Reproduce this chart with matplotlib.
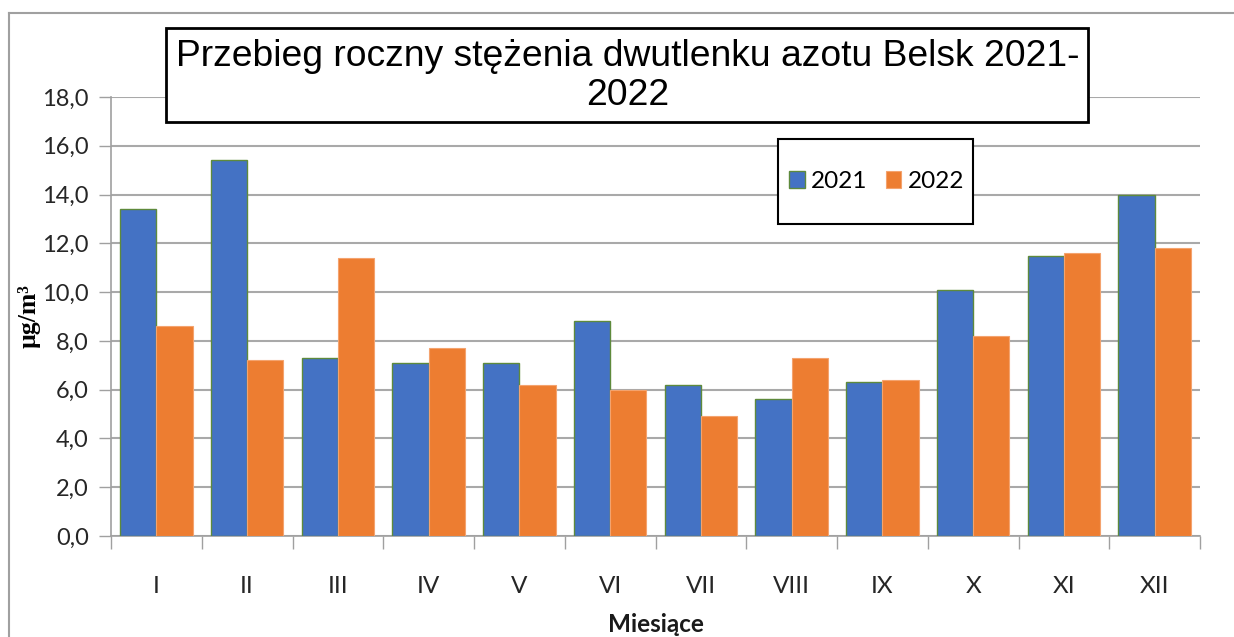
import matplotlib
matplotlib.use("Agg")
import matplotlib.pyplot as plt
from matplotlib.patches import Rectangle
from matplotlib.lines import Line2D
import numpy as np

months = ["I", "II", "III", "IV", "V", "VI", "VII", "VIII", "IX", "X", "XI", "XII"]
values_2021 = [13.4, 15.4, 7.3, 7.1, 7.1, 8.8, 6.2, 5.6, 6.3, 10.1, 11.5, 14.0]
values_2022 = [8.6, 7.2, 11.4, 7.7, 6.2, 6.0, 4.9, 7.3, 6.4, 8.2, 11.6, 11.8]
series_labels = ["2021", "2022"]
yticks = [0, 2, 4, 6, 8, 10, 12, 14, 16, 18]
ytick_labels = ["0,0", "2,0", "4,0", "6,0", "8,0", "10,0", "12,0", "14,0", "16,0", "18,0"]
title = "Przebieg roczny stężenia dwutlenku azotu Belsk 2021-\n2022"
xlabel = "Miesiące"
ylabel = "µg/m³"

W, H = 1234, 637
fig = plt.figure(figsize=(W / 100, H / 100), dpi=100)
fig.patch.set_facecolor("white")

# axes placement (pixels)
x0, x1 = 111, 1200
y0, y1 = 536, 97
ax = fig.add_axes([x0 / W, 1 - y0 / H, (x1 - x0) / W, (y0 - y1) / H])

BLUE = "#4472C4"
ORANGE = "#ED7D31"
GREEN_EDGE = "#5E8A3C"

n = len(months)
x = np.arange(n)
bw = 0.40
ax.bar(x - bw / 2, values_2021, width=bw, color=BLUE, edgecolor=GREEN_EDGE,
       linewidth=1.0, zorder=3, label=series_labels[0])
ax.bar(x + bw / 2, values_2022, width=bw, color=ORANGE, edgecolor="#F4A36E",
       linewidth=0.8, zorder=3, label=series_labels[1])

ax.set_xlim(-0.5, n - 0.5)
ax.set_ylim(0, 18)

ax.set_yticks(yticks)
ax.set_yticklabels(ytick_labels, fontfamily="Lato", fontsize=17, color="#262626")
ax.yaxis.grid(True, color="#A9A9A9", linewidth=1.5, zorder=0)
ax.tick_params(axis="y", length=9, width=1, color="#A0A0A0", pad=7)

ax.set_xticks(x)
ax.set_xticklabels(months, fontfamily="Lato", fontsize=17.5, color="#262626")
ax.tick_params(axis="x", which="major", length=0, pad=29)
ax.set_xticks(np.arange(-0.5, n, 1.0), minor=True)
ax.tick_params(axis="x", which="minor", length=9, width=1, color="#A0A0A0")

for s in ["top", "right"]:
    ax.spines[s].set_visible(False)
for s in ["left", "bottom"]:
    ax.spines[s].set_color("#A0A0A0")
    ax.spines[s].set_linewidth(1.2)

# axis labels
fig.text((x0 + x1) / 2 / W, 1 - 624 / H, xlabel, ha="center", va="center",
         fontfamily="Lato", fontweight="bold", fontsize=17.5, color="#1a1a1a")
fig.text(29 / W, 1 - 316 / H, ylabel, ha="center", va="center", rotation=90,
         fontfamily="Liberation Serif", fontweight="bold", fontsize=18.5, color="black")

# title box
tb_x0, tb_x1, tb_y0, tb_y1 = 166, 1088, 28, 122
fig.patches.append(Rectangle((tb_x0 / W, 1 - tb_y1 / H), (tb_x1 - tb_x0) / W,
                             (tb_y1 - tb_y0) / H, transform=fig.transFigure,
                             facecolor="white", edgecolor="black", linewidth=2, zorder=5))
fig.text(628 / W, 1 - 76 / H, title, ha="center", va="center", multialignment="center",
         fontfamily="Liberation Sans", fontsize=26.8, color="black", zorder=6,
         linespacing=1.12)

# legend frame drawn separately
lg_x0, lg_x1, lg_y0, lg_y1 = 778, 973, 139, 224
fig.patches.append(Rectangle((lg_x0 / W, 1 - lg_y1 / H), (lg_x1 - lg_x0) / W,
                             (lg_y1 - lg_y0) / H, transform=fig.transFigure,
                             facecolor="white", edgecolor="black", linewidth=1.5, zorder=5))
leg = fig.legend(*ax.get_legend_handles_labels(), loc="center",
                 bbox_to_anchor=((lg_x0 + lg_x1) / 2 / W + 1 / W, 1 - (lg_y0 + lg_y1) / 2 / H),
                 ncol=2, frameon=False, prop={"family": "Lato", "size": 17.5},
                 handlelength=0.65, handleheight=0.7, handletextpad=0.25, columnspacing=0.75,
                 borderpad=0, borderaxespad=0)
leg.set_zorder(10)

# outer border (left and top visible)
fig.lines.append(Line2D([9 / W, 9 / W], [0, 1 - 13 / H], transform=fig.transFigure,
                        color="#A0A0A0", linewidth=1.5))
fig.lines.append(Line2D([9 / W, 1], [1 - 13 / H, 1 - 13 / H], transform=fig.transFigure,
                        color="#A0A0A0", linewidth=1.5))

fig.savefig("out.png", dpi=100, facecolor="white")
